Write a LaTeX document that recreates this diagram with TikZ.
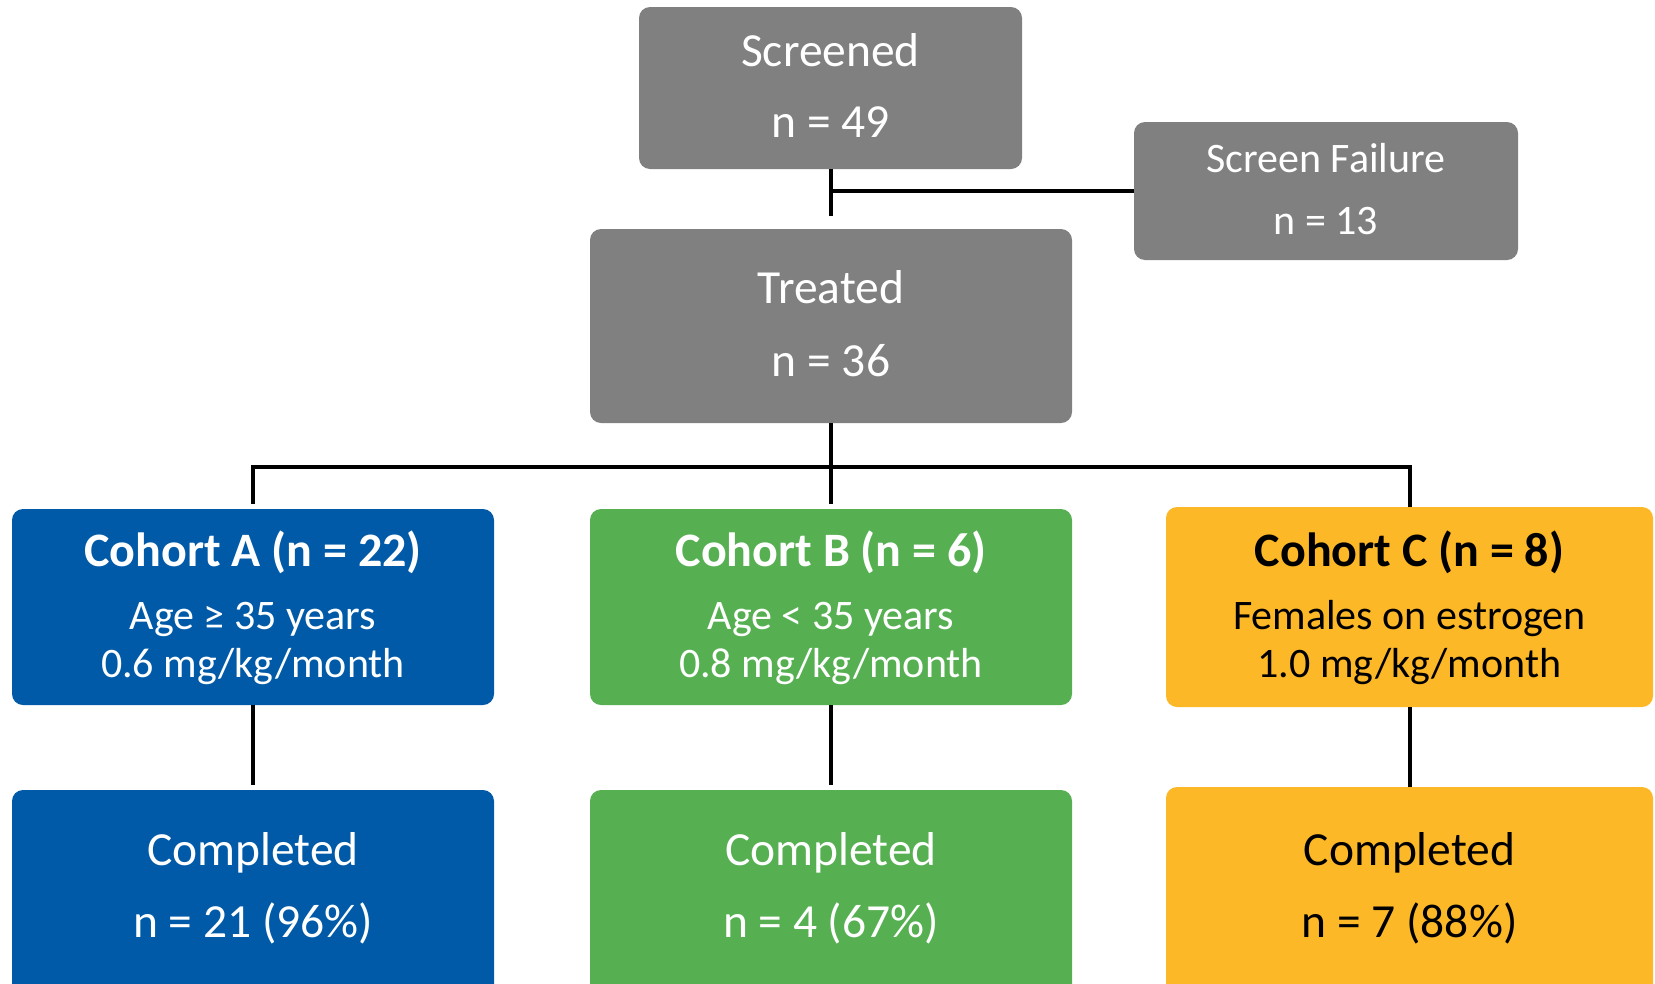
\documentclass[tikz,border=0pt]{standalone}
\usepackage{fontspec}
\setmainfont{Carlito}
\definecolor{boxgray}{RGB}{128,128,128}
\definecolor{cblue}{RGB}{0,90,168}
\definecolor{cgreen}{RGB}{86,176,82}
\definecolor{cyellow}{RGB}{253,184,39}
\tikzset{
  box/.style={rectangle, rounded corners=11pt, inner sep=0pt, draw=none},
  big/.style={font=\fontsize{47.5}{57}\selectfont, inner sep=0pt, anchor=base},
  bigb/.style={font=\fontsize{48}{57}\selectfont\bfseries, inner sep=0pt, anchor=base},
  small/.style={font=\fontsize{42}{50}\selectfont, inner sep=0pt, anchor=base},
  conn/.style={line width=3.5pt},
  hconn/.style={line width=4pt},
}
\begin{document}
\begin{tikzpicture}[x=1pt,y=-1pt]
\useasboundingbox (0,0) rectangle (1655,983);
% boxes
\node[box, fill=boxgray, minimum width=383pt, minimum height=162pt] (screened) at (830.5,88) {};
\node[box, fill=boxgray, minimum width=384pt, minimum height=138pt] (fail) at (1326,191) {};
\node[box, fill=boxgray, minimum width=482pt, minimum height=194pt] (treated) at (831,326) {};
\node[box, fill=cblue, minimum width=482pt, minimum height=196pt] (coA) at (253,607) {};
\node[box, fill=cgreen, minimum width=482pt, minimum height=196pt] (coB) at (831,607) {};
\node[box, fill=cyellow, minimum width=487pt, minimum height=200pt] (coC) at (1409.5,607) {};
\node[box, fill=cblue, minimum width=482pt, minimum height=220pt] (compA) at (253,900) {};
\node[box, fill=cgreen, minimum width=482pt, minimum height=220pt] (compB) at (831,900) {};
\node[box, fill=cyellow, minimum width=487pt, minimum height=223pt] (compC) at (1409.5,898.5) {};
% texts
\node[big, text=white] (tS1) at (830.5,66) {Screened};
\node[big, text=white] (tS2) at (830.5,137) {n = 49};
\node[small, text=white] (tF1) at (1326,172) {Screen Failure};
\node[small, text=white] (tF2) at (1326,234) {n = 13};
\node[big, text=white] (tT1) at (831,303) {Treated};
\node[big, text=white] (tT2) at (831,376) {n = 36};
\node[bigb, text=white] (tA1) at (253,566) {Cohort A (n = 22)};
\node[small, text=white] (tA2) at (253,629) {Age ≥ 35 years};
\node[small, text=white] (tA3) at (253,677) {0.6 mg/kg/month};
\node[bigb, text=white] (tB1) at (831,566) {Cohort B (n = 6)};
\node[small, text=white] (tB2) at (831,629) {Age < 35 years};
\node[small, text=white] (tB3) at (831,677) {0.8 mg/kg/month};
\node[bigb, text=black] (tC1) at (1409.5,566) {Cohort C (n = 8)};
\node[small, text=black] (tC2) at (1409.5,629) {Females on estrogen};
\node[small, text=black] (tC3) at (1409.5,677) {1.0 mg/kg/month};
\node[big, text=white] (tCA1) at (253,865) {Completed};
\node[big, text=white] (tCA2) at (253,937) {n = 21 (96\%)};
\node[big, text=white] (tCB1) at (831,865) {Completed};
\node[big, text=white] (tCB2) at (831,937) {n = 4 (67\%)};
\node[big, text=black] (tCC1) at (1409.5,865) {Completed};
\node[big, text=black] (tCC2) at (1409.5,937) {n = 7 (88\%)};
% connector coordinates
\coordinate (j1) at (831,216);
\coordinate (j1m) at (831,191);
\coordinate (bA) at (253,467);
\coordinate (bC) at (1410,467);
\coordinate (dA) at (253,504);
\coordinate (dB) at (831,504);
\coordinate (lA) at (253,785);
\coordinate (lB) at (831,785);
% connectors
\draw[conn] (831,169) -- (j1);
\draw[hconn] (fail.west) -- (j1m);
\draw[conn] (treated.south) -- (dB);
\draw[hconn] ([xshift=-1.75pt]bA) -- ([xshift=1.75pt]bC);
\draw[conn] (bA) -- (dA);
\draw[conn] (bC) -- (coC.north -| bC);
\draw[conn] (coA.south) -- (lA);
\draw[conn] (coB.south) -- (lB);
\draw[conn] (coC.south -| bC) -- (compC.north -| bC);
\end{tikzpicture}
\end{document}
